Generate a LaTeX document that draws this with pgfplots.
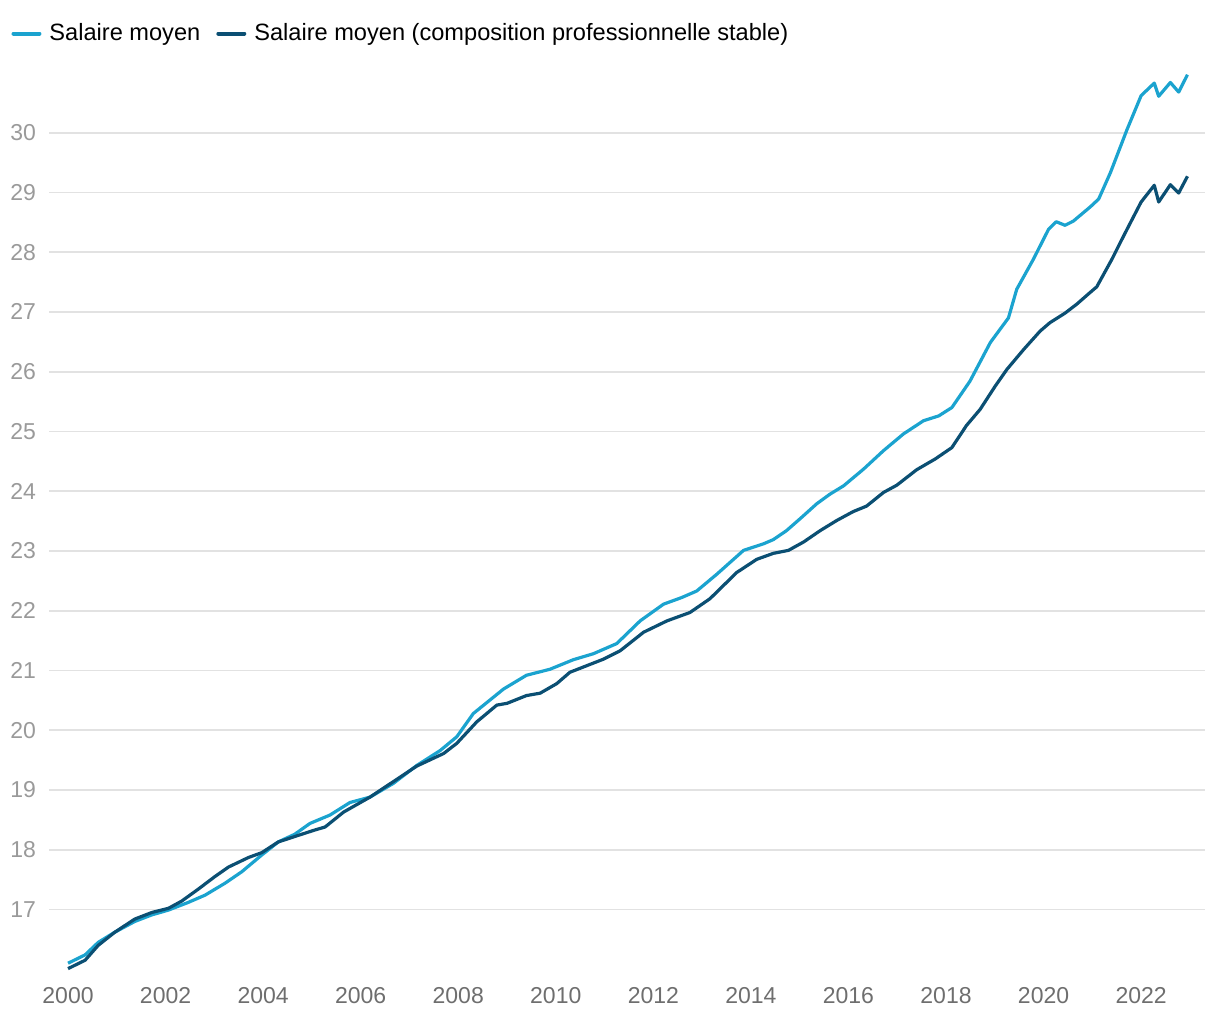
\documentclass[border=0pt]{standalone}
\usepackage{fontspec}
\setmainfont{Liberation Sans}
\usepackage{pgfplots}
\pgfplotsset{compat=1.18}
\definecolor{lightblue}{HTML}{1BA3CF}
\definecolor{darkblue}{HTML}{0B4F73}
\definecolor{gridgray}{HTML}{E2E2E2}
\definecolor{ylab}{HTML}{9A9A9A}
\definecolor{xlab}{HTML}{6E6E6E}
\begin{document}
\begin{tikzpicture}
\path[use as bounding box] (-24.5pt,-21.5pt) rectangle (585.5pt,488.5pt);
\begin{axis}[
  at={(0pt,0pt)}, anchor=south west,
  scale only axis, width=578pt, height=458pt,
  xmin=1999.61, xmax=2023.31,
  ymin=15.87, ymax=31.2,
  axis line style={draw=none},
  major tick length=0pt,
  xtick={2000,2002,...,2022},
  ytick={17,18,...,30},
  ymajorgrids, grid style={gridgray, line width=0.9pt},
  /pgf/number format/assume math mode=true,
  /pgf/number format/1000 sep={},
  font=\fontsize{11.5}{14}\selectfont,
  xticklabel style={text=xlab, yshift=-1.5pt},
  yticklabel style={text=ylab, xshift=-3pt},
  legend style={at={(-0.038,1.030)}, anchor=west, draw=none, fill=none,
    font=\fontsize{11.8}{14}\selectfont, column sep=2pt,
    /tikz/every even column/.append style={column sep=6pt}},
  legend columns=2,
  legend image code/.code={\draw[line width=2pt, line cap=round] (0pt,0pt) -- (13pt,0pt);},
]
\addplot[lightblue, line width=1.6pt, line join=round] coordinates {
(2000.00,16.10) (2000.35,16.24) (2000.62,16.45) (2000.96,16.62) (2001.37,16.80)
(2001.72,16.91) (2002.06,16.99) (2002.47,17.12) (2002.81,17.24) (2003.22,17.44)
(2003.56,17.63) (2003.97,17.91) (2004.31,18.13) (2004.65,18.26) (2004.96,18.44)
(2005.37,18.58) (2005.78,18.79) (2006.19,18.88) (2006.67,19.11) (2007.15,19.41)
(2007.63,19.66) (2007.97,19.89) (2008.31,20.28) (2008.93,20.69) (2009.40,20.92)
(2009.88,21.02) (2010.36,21.18) (2010.77,21.28) (2011.25,21.45) (2011.73,21.83)
(2012.21,22.11) (2012.58,22.22) (2012.89,22.33) (2013.30,22.61) (2013.85,23.01)
(2014.26,23.12) (2014.46,23.19) (2014.73,23.34) (2015.01,23.54) (2015.35,23.79)
(2015.62,23.95) (2015.90,24.09) (2016.31,24.37) (2016.72,24.68) (2017.13,24.96)
(2017.54,25.18) (2017.85,25.26) (2018.12,25.40) (2018.49,25.84) (2018.91,26.49)
(2019.28,26.90) (2019.45,27.38) (2019.79,27.88) (2020.10,28.38) (2020.26,28.51)
(2020.44,28.45) (2020.61,28.52) (2020.96,28.76) (2021.13,28.89) (2021.37,29.33)
(2021.71,30.05) (2022.00,30.62) (2022.27,30.83) (2022.36,30.61) (2022.60,30.84)
(2022.77,30.68) (2022.95,30.97)
};
\addlegendentry{Salaire moyen}
\addplot[darkblue, line width=1.6pt, line join=round] coordinates {
(2000.00,16.01) (2000.35,16.15) (2000.62,16.40) (2000.96,16.62) (2001.37,16.84)
(2001.72,16.95) (2002.06,17.02) (2002.33,17.14) (2002.67,17.34) (2003.01,17.55)
(2003.29,17.71) (2003.70,17.87) (2003.97,17.95) (2004.31,18.13) (2004.72,18.24)
(2005.06,18.33) (2005.27,18.38) (2005.65,18.63) (2006.19,18.88) (2006.67,19.14)
(2007.15,19.40) (2007.70,19.61) (2007.97,19.78) (2008.38,20.14) (2008.79,20.42)
(2009.00,20.45) (2009.40,20.58) (2009.68,20.62) (2010.02,20.78) (2010.29,20.97)
(2010.98,21.19) (2011.32,21.33) (2011.80,21.64) (2012.28,21.83) (2012.75,21.97)
(2013.16,22.20) (2013.71,22.64) (2014.12,22.86) (2014.46,22.96) (2014.77,23.01)
(2015.08,23.15) (2015.42,23.34) (2015.76,23.51) (2016.10,23.66) (2016.37,23.75)
(2016.72,23.98) (2016.99,24.10) (2017.40,24.36) (2017.78,24.54) (2018.12,24.73)
(2018.42,25.10) (2018.70,25.37) (2019.01,25.76) (2019.25,26.04) (2019.59,26.37)
(2019.93,26.68) (2020.13,26.82) (2020.44,26.98) (2020.68,27.13) (2020.96,27.33)
(2021.09,27.42) (2021.40,27.88) (2021.64,28.27) (2022.00,28.84) (2022.27,29.12)
(2022.36,28.84) (2022.60,29.13) (2022.77,28.99) (2022.95,29.27)
};
\addlegendentry{Salaire moyen (composition professionnelle stable)}
\end{axis}
\end{tikzpicture}
\end{document}
